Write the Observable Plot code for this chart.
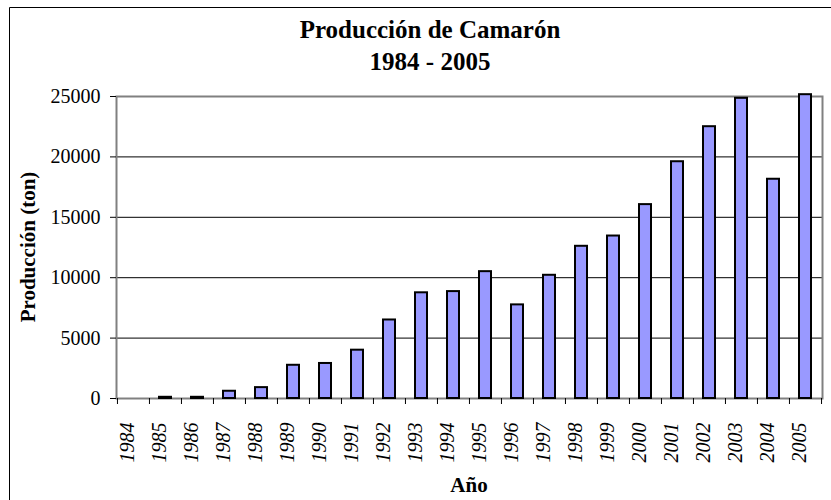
<!DOCTYPE html>
<html><head><meta charset="utf-8">
<script src="https://cdn.jsdelivr.net/npm/d3@7"></script>
<script src="https://cdn.jsdelivr.net/npm/@observablehq/plot@0.6"></script>
<style>
body{margin:0;background:#fff;overflow:hidden}
#chart{position:relative;width:831px;height:500px}
</style>
</head><body><div id="chart"></div>
<script>
const years = ["1984","1985","1986","1987","1988","1989","1990","1991","1992","1993","1994","1995","1996","1997","1998","1999","2000","2001","2002","2003","2004","2005"];
const production = [0,100,100,600,900,2750,2900,4000,6500,8750,8850,10500,7750,10200,12600,13450,16050,19600,22500,24850,18150,25150];
const yTicks = [0,5000,10000,15000,20000,25000];
const titleLines = ["Producción de Camarón","1984 - 2005"];
const xLabel = "Año";
const yLabel = "Producción (ton)";

const data = years.map((y,i)=>({year:y, value:production[i]}));

const FONT = "'Liberation Serif', 'Times New Roman', Times, 'DejaVu Serif', serif";
const W=831,H=500,mL=116,mR=9,mT=96,mB=102;
const step=(W-mL-mR)/years.length;
const plotH=H-mT-mB;

const chart = Plot.plot({
  width:W,height:H,marginLeft:mL,marginRight:mR,marginTop:mT,marginBottom:mB,
  style:{fontFamily:FONT,fontSize:"20px",background:"white",overflow:"visible",color:"#000"},
  x:{type:"band",domain:years,paddingInner:0.61,paddingOuter:0.305},
  y:{domain:[0,25000]},
  marks:[
    Plot.ruleY(yTicks.slice(1,-1),{stroke:"#000",strokeWidth:1}),
    Plot.frame({stroke:"#808080",strokeWidth:2}),
    Plot.barY(data,{filter:d=>d.value>0,x:"year",y:"value",fill:"#9999ff",stroke:"#000",strokeWidth:2}),
    Plot.axisY({ticks:yTicks,tickSize:6,tickPadding:10,tickFormat:d=>String(d),label:null,stroke:"#000",fontFamily:FONT}),
    Plot.axisX({tickSize:0,tickRotate:-90,tickPadding:24,fontStyle:"italic",dx:-6,label:null,fontFamily:FONT}),
    Plot.ruleX(years,{x:d=>d,dx:-step/2,insetTop:plotH,insetBottom:-6,stroke:"#000"}),
    Plot.ruleX([years[years.length-1]],{x:d=>d,dx:step/2,insetTop:plotH,insetBottom:-6,stroke:"#000"})
  ]
});
document.getElementById("chart").appendChild(chart);

const svg=d3.select(chart);
svg.append("path").attr("d",`M9.5,${H}V7.5H${W}`).attr("fill","none").attr("stroke","#000");
titleLines.forEach((t,i)=>{
  svg.append("text").attr("x",430).attr("y",38+i*32).attr("text-anchor","middle")
    .style("font-family",FONT).attr("font-weight","bold").attr("font-size",25).attr("fill","#000").text(t);
});
svg.append("text").attr("x",(mL+W-mR)/2).attr("y",492).attr("text-anchor","middle")
  .style("font-family",FONT).attr("font-weight","bold").attr("font-size",21).attr("fill","#000").text(xLabel);
svg.append("text").attr("transform",`translate(35,${mT+plotH/2}) rotate(-90)`).attr("text-anchor","middle")
  .style("font-family",FONT).attr("font-weight","bold").attr("font-size",21).attr("fill","#000").text(yLabel);
</script>
</body></html>
